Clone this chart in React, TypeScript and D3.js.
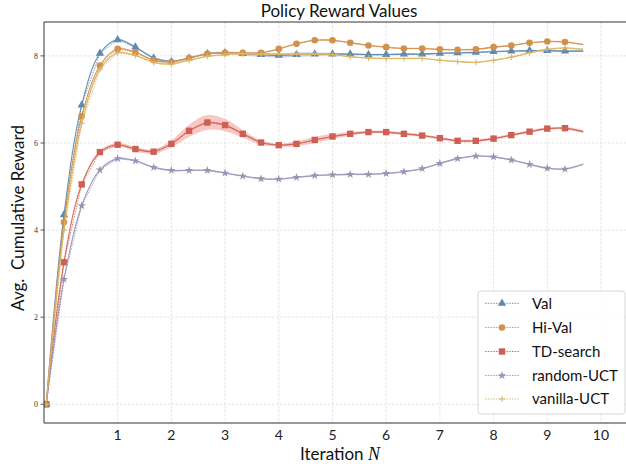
import React from "react";
import * as d3 from "d3";

const iterations = [-0.33, 0, 0.33, 0.67, 1, 1.33, 1.67, 2, 2.33, 2.67, 3, 3.33, 3.67, 4, 4.33, 4.67, 5, 5.33, 5.67, 6, 6.33, 6.67, 7, 7.33, 7.67, 8, 8.33, 8.67, 9, 9.33, 9.67];
const valData = [0, 4.35, 6.87, 8.06, 8.37, 8.2, 7.95, 7.87, 7.95, 8.05, 8.07, 8.05, 8.03, 8.01, 8.03, 8.04, 8.04, 8.04, 8.03, 8.03, 8.04, 8.04, 8.06, 8.07, 8.08, 8.1, 8.11, 8.12, 8.12, 8.11, 8.11];
const hiValData = [0, 4.18, 6.62, 7.78, 8.16, 8.08, 7.9, 7.86, 7.95, 8.05, 8.07, 8.07, 8.07, 8.16, 8.28, 8.36, 8.36, 8.3, 8.24, 8.2, 8.17, 8.17, 8.15, 8.14, 8.15, 8.2, 8.24, 8.3, 8.33, 8.32, 8.26];
const tdData = [0, 3.26, 5.05, 5.79, 5.96, 5.86, 5.8, 5.98, 6.28, 6.47, 6.41, 6.21, 6.01, 5.95, 5.98, 6.07, 6.15, 6.21, 6.25, 6.25, 6.21, 6.17, 6.11, 6.05, 6.05, 6.1, 6.18, 6.26, 6.33, 6.34, 6.26];
const randomData = [0, 2.87, 4.56, 5.38, 5.64, 5.59, 5.44, 5.37, 5.37, 5.37, 5.31, 5.24, 5.18, 5.17, 5.21, 5.25, 5.27, 5.28, 5.28, 5.3, 5.34, 5.41, 5.53, 5.64, 5.7, 5.68, 5.61, 5.51, 5.42, 5.4, 5.51];
const vanillaData = [0, 4.0, 6.45, 7.69, 8.07, 8.01, 7.85, 7.81, 7.9, 7.99, 8.03, 8.05, 8.04, 8.04, 8.04, 8.04, 8.03, 7.98, 7.95, 7.94, 7.94, 7.94, 7.9, 7.87, 7.85, 7.9, 7.97, 8.07, 8.15, 8.18, 8.15];

const valStd = [0, 0.02, 0.02, 0.02, 0.02, 0.02, 0.02, 0.02, 0.02, 0.02, 0.03, 0.04, 0.05, 0.05, 0.05, 0.04, 0.03, 0.02, 0.02, 0.02, 0.02, 0.02, 0.02, 0.02, 0.02, 0.02, 0.02, 0.02, 0.02, 0.02, 0.02];
const hiValStd = [0, 0.02, 0.02, 0.02, 0.02, 0.02, 0.02, 0.02, 0.02, 0.02, 0.02, 0.02, 0.02, 0.02, 0.02, 0.02, 0.02, 0.02, 0.02, 0.02, 0.02, 0.02, 0.02, 0.02, 0.02, 0.02, 0.02, 0.02, 0.02, 0.02, 0.02];
const tdStd = [0, 0.02, 0.03, 0.04, 0.04, 0.05, 0.05, 0.08, 0.14, 0.17, 0.14, 0.09, 0.05, 0.03, 0.06, 0.07, 0.06, 0.04, 0.03, 0.03, 0.03, 0.03, 0.03, 0.03, 0.03, 0.03, 0.03, 0.03, 0.03, 0.03, 0.03];
const randomStd = [0, 0.02, 0.02, 0.02, 0.02, 0.02, 0.02, 0.02, 0.02, 0.02, 0.02, 0.02, 0.02, 0.02, 0.02, 0.02, 0.02, 0.02, 0.02, 0.02, 0.02, 0.02, 0.02, 0.02, 0.02, 0.02, 0.02, 0.02, 0.02, 0.02, 0.02];
const vanillaStd = [0, 0.02, 0.02, 0.02, 0.02, 0.02, 0.02, 0.02, 0.02, 0.02, 0.02, 0.02, 0.02, 0.02, 0.02, 0.02, 0.02, 0.02, 0.02, 0.02, 0.02, 0.02, 0.02, 0.02, 0.02, 0.02, 0.02, 0.02, 0.02, 0.02, 0.02];

const seriesNames = ["Val", "Hi-Val", "TD-search", "random-UCT", "vanilla-UCT"];
const seriesColors = ["#5f8aad", "#d1914d", "#cd6053", "#9a93b6", "#dbb464"];
const bandColors = ["#8fb3d6", "#f0c08a", "#f29a96", "#c6c0dc", "#ecd597"];
const seriesMarkers = ["triangle", "circle", "square", "star", "plus"];
const seriesValues = [valData, hiValData, tdData, randomData, vanillaData];
const seriesStd = [valStd, hiValStd, tdStd, randomStd, vanillaStd];

const xTicks = [1, 2, 3, 4, 5, 6, 7, 8, 9, 10];
const yTicks = [0, 2, 4, 6, 8];

const W = 626;
const H = 470;
const left = 44;
const right = 634;
const top = 22;
const bottom = 423;

const x = d3.scaleLinear().domain([-0.372, 10.615]).range([left, right]);
const y = d3.scaleLinear().domain([-0.43, 8.778]).range([bottom, top]);

const SANS = "Lato, 'Open Sans', sans-serif";

function Marker({ kind, cx, cy, color }: { kind: string; cx: number; cy: number; color: string }) {
  if (kind === "triangle") {
    const p = d3.symbol(d3.symbolTriangle, 30)();
    return <path d={p || ""} transform={`translate(${cx},${cy})`} fill={color} />;
  }
  if (kind === "circle") {
    return <circle cx={cx} cy={cy} r={3.3} fill={color} />;
  }
  if (kind === "square") {
    return <rect x={cx - 3.2} y={cy - 3.2} width={6.4} height={6.4} fill={color} />;
  }
  if (kind === "star") {
    const p = d3.symbol(d3.symbolStar, 22)();
    return <path d={p || ""} transform={`translate(${cx},${cy})`} fill={color} />;
  }
  return (
    <g stroke={color} strokeWidth={1}>
      <line x1={cx - 3} x2={cx + 3} y1={cy} y2={cy} />
      <line x1={cx} x2={cx} y1={cy - 3} y2={cy + 3} />
    </g>
  );
}

export default function App() {
  const smooth = d3
    .line<number>()
    .x((_, i) => x(iterations[i]))
    .y((d) => y(d))
    .curve(d3.curveCatmullRom.alpha(0.5));
  const straight = d3
    .line<number>()
    .x((_, i) => x(iterations[i]))
    .y((d) => y(d));

  const legendX = 478;
  const legendY = 291;
  const legendRows = [303.3, 327.5, 351.5, 375.5, 399];

  return (
    <svg
      width={W}
      height={H}
      style={{ position: "absolute", left: 0, top: 0, background: "#fff" }}
      viewBox={`0 0 ${W} ${H}`}
    >
      <defs>
        <clipPath id="plotclip">
          <rect x={left} y={top} width={right - left} height={bottom - top} />
        </clipPath>
      </defs>
      <rect x={0} y={0} width={W} height={H} fill="#fff" />
      {/* grid */}
      <g stroke="#dcdcdc" strokeWidth={0.8} strokeDasharray="2.5,1.5">
        {xTicks.map((t) => (
          <line key={"gx" + t} x1={x(t)} x2={x(t)} y1={top} y2={bottom} />
        ))}
        {yTicks.map((t) => (
          <line key={"gy" + t} x1={left} x2={right} y1={y(t)} y2={y(t)} />
        ))}
      </g>
      {/* series */}
      <g clipPath="url(#plotclip)">
        {seriesValues.map((vals, s) => {
          const area = d3
            .area<number>()
            .x((_, i) => x(iterations[i]))
            .y0((d, i) => y(d - seriesStd[s][i]))
            .y1((d, i) => y(d + seriesStd[s][i]))
            .curve(d3.curveCatmullRom.alpha(0.5));
          return (
            <g key={"s" + s}>
              <path d={area(vals) || ""} fill={bandColors[s]} opacity={0.55} />
              <path d={smooth(vals) || ""} fill="none" stroke={seriesColors[s]} strokeWidth={1.1} opacity={0.9} />
              <path d={straight(vals) || ""} fill="none" stroke={seriesColors[s]} strokeWidth={0.8} strokeDasharray="1.5,1.2" />
              {vals.slice(0, 30).map((v, i) => (
                <Marker key={i} kind={seriesMarkers[s]} cx={x(iterations[i])} cy={y(v)} color={seriesColors[s]} />
              ))}
            </g>
          );
        })}
      </g>
      {/* spines */}
      <g stroke="#333" strokeWidth={1}>
        <line x1={left} x2={left} y1={top} y2={bottom} />
        <line x1={left} x2={right} y1={bottom} y2={bottom} />
        <line x1={left} x2={right} y1={top} y2={top} />
        <line x1={right} x2={right} y1={top} y2={bottom} />
      </g>
      {/* y ticks */}
      {yTicks.map((t) => (
        <g key={"yt" + t}>
          <line x1={left - 3.5} x2={left} y1={y(t)} y2={y(t)} stroke="#333" strokeWidth={0.8} />
          <text
            x={left - 6}
            y={y(t)}
            dy="0.33em"
            textAnchor="end"
            fontFamily="'Liberation Serif', 'DejaVu Serif', serif"
            fontSize={8}
            fill="#333"
          >
            {t}
          </text>
        </g>
      ))}
      {/* x tick labels */}
      {xTicks.map((t) => (
        <text key={"xt" + t} x={x(t)} y={440} textAnchor="middle" fontFamily={SANS} fontSize={14} fill="#222">
          {t}
        </text>
      ))}
      {/* title */}
      <text x={(left + right) / 2} y={17} textAnchor="middle" fontFamily={SANS} fontSize={17} fill="#111">
        Policy Reward Values
      </text>
      {/* x label */}
      <text x={340} y={460} textAnchor="middle" fontFamily={SANS} fontSize={17} fill="#111">
        Iteration{" "}
        <tspan fontFamily="'Liberation Serif', serif" fontStyle="italic" fontSize={18}>
          N
        </tspan>
      </text>
      {/* y label */}
      <text
        transform={`translate(24,218) rotate(-90)`}
        textAnchor="middle"
        fontFamily={SANS}
        fontSize={17}
        fill="#111"
        style={{ whiteSpace: "pre" }}
      >
        {"Avg.  Cumulative Reward"}
      </text>
      {/* legend */}
      <g>
        <rect x={legendX} y={legendY} width={147} height={123} rx={3} fill="#fff" fillOpacity={0.85} stroke="#d8d8d8" strokeWidth={1} />
        {seriesNames.map((name, s) => (
          <g key={"lg" + s}>
            <line
              x1={485}
              x2={519}
              y1={legendRows[s]}
              y2={legendRows[s]}
              stroke={seriesColors[s]}
              strokeWidth={0.9}
              strokeDasharray="1.5,1.2"
            />
            <Marker kind={seriesMarkers[s]} cx={502} cy={legendRows[s]} color={seriesColors[s]} />
            <text x={532} y={legendRows[s]} dy="0.35em" fontFamily={SANS} fontSize={15} fill="#111">
              {name}
            </text>
          </g>
        ))}
      </g>
    </svg>
  );
}
